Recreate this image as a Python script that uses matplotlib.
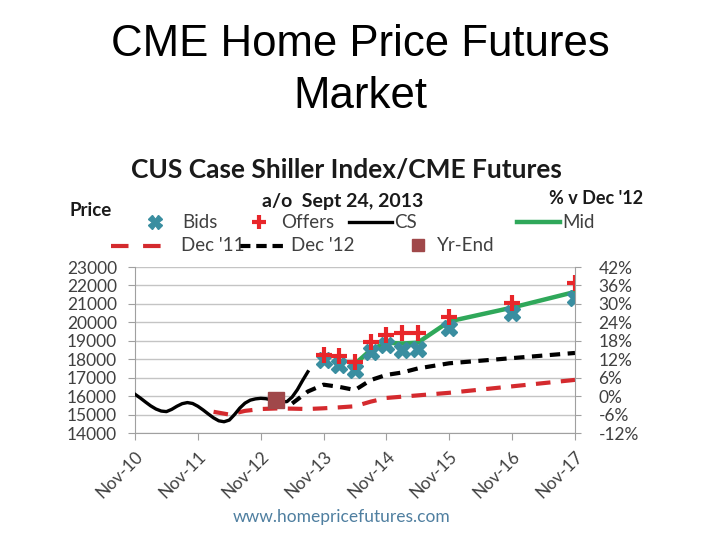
import matplotlib
matplotlib.use('Agg')
import matplotlib.pyplot as plt
from matplotlib.lines import Line2D

MONTHS = ['Jan', 'Feb', 'Mar', 'Apr', 'May', 'Jun', 'Jul', 'Aug', 'Sep', 'Oct', 'Nov', 'Dec']

def month_offset(label):
    """'Nov-13' -> months after Nov-10"""
    mon, yr = label.split('-')
    return (2000 + int(yr) - 2010) * 12 + MONTHS.index(mon) - 10

# Case-Shiller index, monthly from Nov-10
cs_months = ['Nov-10', 'Dec-10', 'Jan-11', 'Feb-11', 'Mar-11', 'Apr-11', 'May-11', 'Jun-11',
             'Jul-11', 'Aug-11', 'Sep-11', 'Oct-11', 'Nov-11', 'Dec-11', 'Jan-12', 'Feb-12',
             'Mar-12', 'Apr-12', 'May-12', 'Jun-12', 'Jul-12', 'Aug-12', 'Sep-12', 'Oct-12',
             'Nov-12', 'Dec-12', 'Jan-13', 'Feb-13', 'Mar-13', 'Apr-13', 'May-13', 'Jun-13',
             'Jul-13', 'Aug-13']
cs_values = [16100, 15900, 15680, 15470, 15300, 15190, 15160, 15280,
             15450, 15590, 15650, 15600, 15450, 15250, 15030, 14820,
             14660, 14610, 14700, 15000, 15350, 15620, 15780, 15850,
             15880, 15860, 15800, 15720, 15700, 15700, 15950, 16350,
             16850, 17320]

# futures contracts on Sept 24, 2013
contracts = ['Nov-13', 'Feb-14', 'May-14', 'Aug-14', 'Nov-14', 'Feb-15', 'May-15',
             'Nov-15', 'Nov-16', 'Nov-17']
bids = [17960, 17690, 17420, 18410, 18770, 18500, 18540, 19680, 20520, 21300]
offers = [18230, 18180, 17870, 18950, 19310, 19440, 19400, 20310, 21030, 22120]
mid_contracts = ['May-14', 'Aug-14', 'Nov-14', 'Feb-15', 'May-15', 'Nov-15', 'Nov-16', 'Nov-17']
mid_values = [17750, 18500, 18900, 18850, 18900, 20050, 20800, 21650]

# futures curve as of Dec '11
dec11_months = ['Feb-12', 'May-12', 'Aug-12', 'Nov-12', 'Feb-13', 'May-13', 'Aug-13', 'Nov-13',
                'Feb-14', 'May-14', 'Aug-14', 'Nov-14', 'Nov-15', 'Nov-16', 'Nov-17']
dec11_values = [15150, 15000, 15200, 15300, 15330, 15320, 15300, 15340,
                15390, 15450, 15700, 15900, 16180, 16530, 16880]

# futures curve as of Dec '12
dec12_months = ['May-13', 'Aug-13', 'Nov-13', 'Feb-14', 'May-14', 'Aug-14', 'Nov-14',
                'Feb-15', 'May-15', 'Nov-15', 'Nov-16', 'Nov-17']
dec12_values = [15600, 16250, 16620, 16500, 16330, 16870, 17150,
                17280, 17500, 17780, 18060, 18340]

yr_end_month = ['Feb-13']
yr_end_value = [15800]

xtick_labels = ['Nov-10', 'Nov-11', 'Nov-12', 'Nov-13', 'Nov-14', 'Nov-15', 'Nov-16', 'Nov-17']
price_ticks = [14000, 15000, 16000, 17000, 18000, 19000, 20000, 21000, 22000, 23000]
pct_labels = ['-12%', '-6%', '0%', '6%', '12%', '18%', '24%', '30%', '36%', '42%']

BID_C = '#3a8ea0'
OFFER_C = '#e8262a'
MID_C = '#2fa85a'
DEC11_C = '#d42a2e'
YREND_C = '#a0484a'
TXT_C = '#404040'
HEAD_C = '#1a1a1a'
FONT = 'Lato'

W, H = 720, 540
fig = plt.figure(figsize=(7.2, 5.4), dpi=100)
fig.patch.set_facecolor('white')

def px(x, y):
    return x / W, 1 - y / H

fig.text(*px(360, 45), 'CME Home Price Futures', ha='center', va='center',
         fontsize=31.5, family='Liberation Sans')
fig.text(*px(360, 96), 'Market', ha='center', va='center',
         fontsize=31.5, family='Liberation Sans')

ax = fig.add_axes([135 / W, 107 / H, 440 / W, 166 / H])

ax.plot([month_offset(m) for m in dec11_months], dec11_values, color=DEC11_C,
        lw=3, dashes=(3.5, 2.5), zorder=2)
ax.plot([month_offset(m) for m in dec12_months], dec12_values, color='black',
        lw=3, dashes=(2.5, 1.8), zorder=2)
ax.plot([month_offset(m) for m in cs_months], cs_values, color='black', lw=2.4, zorder=3)
ax.plot([month_offset(m) for m in yr_end_month], yr_end_value, ls='none', marker='s',
        ms=11, color=YREND_C, zorder=4)
ax.plot([month_offset(m) for m in mid_contracts], mid_values, color=MID_C, lw=3.2, zorder=3)
ax.plot([month_offset(m) for m in contracts], bids, ls='none', marker='X', ms=11.5,
        color=BID_C, mec=BID_C, zorder=5)
ax.plot([month_offset(m) for m in contracts], offers, ls='none', marker='+', ms=12,
        mew=3, color=OFFER_C, zorder=6)

ax.set_xlim(0, 84)
ax.set_ylim(14000, 23000)
ax.set_xticks([month_offset(m) for m in xtick_labels])
ax.set_xticklabels(xtick_labels, rotation=45, ha='right', va='top',
                   rotation_mode='anchor', family=FONT, fontsize=12.5, color=TXT_C)
ax.set_yticks(price_ticks)
ax.set_yticklabels([str(v) for v in price_ticks], family=FONT, fontsize=12.5, color=TXT_C)
ax.grid(axis='y', color='#c4c4c4', lw=1)
ax.set_axisbelow(True)
for side in ['top', 'right']:
    ax.spines[side].set_visible(False)
for side in ['left', 'bottom']:
    ax.spines[side].set_color('#a0a0a0')
ax.tick_params(axis='y', length=5, pad=8, color='#a0a0a0')
ax.tick_params(axis='x', length=5, pad=6, color='#a0a0a0')

ax2 = ax.twinx()
ax2.set_ylim(ax.get_ylim())
ax2.set_yticks(price_ticks)
ax2.set_yticklabels(pct_labels, family=FONT, fontsize=12.5, color=TXT_C)
for side in ['top', 'left', 'bottom']:
    ax2.spines[side].set_visible(False)
ax2.spines['right'].set_color('#a0a0a0')
ax2.tick_params(axis='y', length=4, pad=13, color='#a0a0a0')

# chart headings
fig.text(*px(346, 170), 'CUS Case Shiller Index/CME Futures', ha='center', va='center',
         fontsize=19, family=FONT, weight='bold', color=HEAD_C)
fig.text(*px(343, 201), 'a/o  Sept 24, 2013', ha='center', va='center',
         fontsize=14, family=FONT, weight='bold', color=HEAD_C)
fig.text(*px(596, 199), "% v Dec '12", ha='center', va='center',
         fontsize=13, family=FONT, weight='bold', color=HEAD_C)
fig.text(*px(91, 210), 'Price', ha='center', va='center',
         fontsize=13.5, family=FONT, weight='bold', color=HEAD_C)

# legend built by hand
def legend_line(x0, x1, y, **kw):
    fig.add_artist(Line2D([x0 / W, x1 / W], [1 - y / H, 1 - y / H], **kw))

def legend_text(x, y, s):
    fig.text(*px(x, y), s, ha='left', va='center', fontsize=13.5, family=FONT, color=TXT_C)

fig.add_artist(Line2D([155 / W], [1 - 222 / H], ls='none', marker='X', ms=10, color=BID_C))
legend_text(182, 222, 'Bids')
fig.add_artist(Line2D([259 / W], [1 - 222 / H], ls='none', marker='+', ms=10, mew=3, color=OFFER_C))
legend_text(281, 222, 'Offers')
legend_line(349, 392, 222, color='black', lw=2.4)
legend_text(394, 222, 'CS')
legend_line(517, 560, 222, color=MID_C, lw=3.2)
legend_text(562, 222, 'Mid')

legend_line(111, 162, 246, color=DEC11_C, lw=3, dashes=(4.2, 3.5))
legend_text(181, 246, "Dec '11")
legend_line(240, 288, 246, color='black', lw=3, dashes=(2.5, 1.4))
legend_text(291, 246, "Dec '12")
fig.add_artist(Line2D([418 / W], [1 - 245 / H], ls='none', marker='s', ms=8, color=YREND_C))
legend_text(437, 246, 'Yr-End')

fig.text(*px(342, 517), 'www.homepricefutures.com', ha='center', va='center',
         fontsize=12.5, family=FONT, color='#4f7fa0')

fig.savefig('out.png', dpi=100, facecolor='white')
